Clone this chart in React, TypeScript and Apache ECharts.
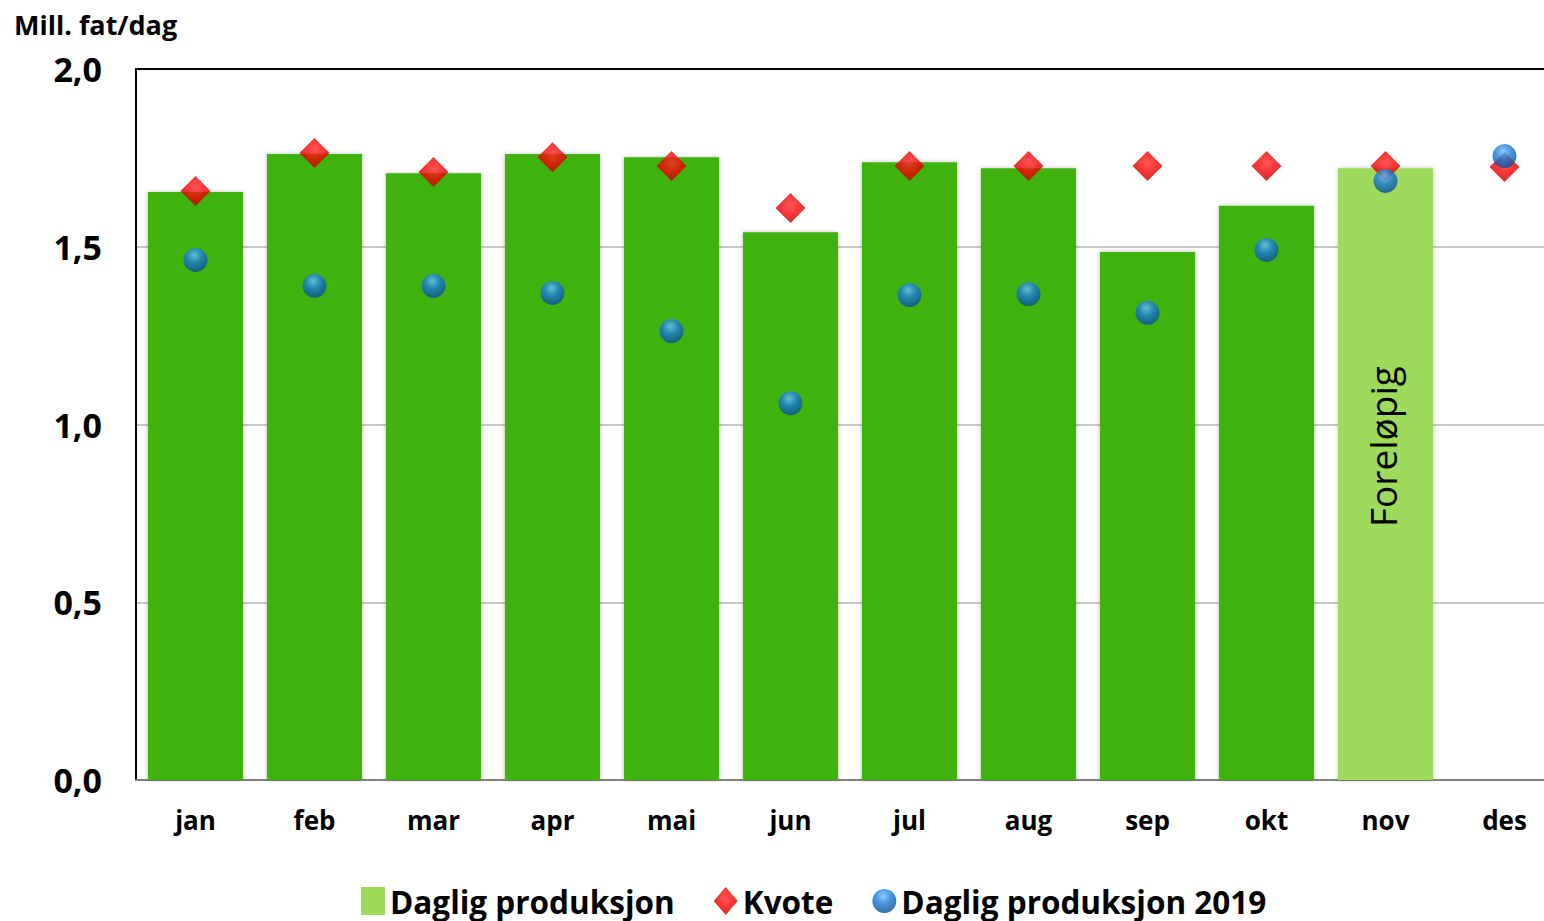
import React, { useEffect, useRef } from "react";
import * as echarts from "echarts";

const months = ["jan", "feb", "mar", "apr", "mai", "jun", "jul", "aug", "sep", "okt", "nov", "des"];
const production = [1.654, 1.761, 1.707, 1.761, 1.752, 1.541, 1.738, 1.721, 1.485, 1.615, 1.721, null];
const quota = [1.657, 1.764, 1.71, 1.752, 1.727, 1.609, 1.727, 1.727, 1.727, 1.727, 1.727, 1.724];
const production2019 = [1.463, 1.39, 1.39, 1.37, 1.263, 1.06, 1.364, 1.367, 1.314, 1.491, 1.685, 1.755];
const preliminaryIndex = 10;
const preliminaryLabel = "Foreløpig";
const yTicks = [0, 0.5, 1, 1.5, 2];

const FONT = "Open Sans";

export default function App() {
  const ref = useRef<HTMLDivElement>(null);
  useEffect(() => {
    if (!ref.current) return;
    const chart = echarts.init(ref.current, undefined, { renderer: "svg" });
    const darkGreen = "#3fb20a";
    const lightGreen = "#9edb5b";
    const redGrad = new echarts.graphic.RadialGradient(0.5, 0.4, 0.6, [
      { offset: 0, color: "#ff2a2a" },
      { offset: 0.6, color: "#f00000" },
      { offset: 1, color: "#b80000" },
    ]);
    const blueGrad = new echarts.graphic.RadialGradient(0.45, 0.3, 0.7, [
      { offset: 0, color: "#6cc0ff" },
      { offset: 0.45, color: "#1a7cd8" },
      { offset: 1, color: "#0a4a94" },
    ]);
    const barData = production.map((v, i) =>
      i === preliminaryIndex
        ? {
            value: v,
            itemStyle: { color: lightGreen },
            label: {
              show: true,
              formatter: preliminaryLabel,
              position: ["47%", "45.5%"],
              rotate: 90,
              align: "center",
              verticalAlign: "middle",
              fontFamily: FONT,
              fontSize: 37,
              color: "#000",
            },
          }
        : v
    );
    chart.setOption({
      animation: false,
      grid: { left: 136, top: 69, width: 1428, height: 711, containLabel: false },
      legend: {
        left: 356,
        top: 880,
        itemGap: 39,
        itemWidth: 24,
        itemHeight: 28,
        textStyle: { fontFamily: FONT, fontWeight: "bold", fontSize: 31.5, color: "#000" },
        data: [
          { name: "Daglig produksjon", icon: "rect", itemStyle: { color: lightGreen } },
          { name: "Kvote", icon: "diamond" },
          { name: "Daglig produksjon 2019", icon: "circle" },
        ],
      },
      graphic: [
        {
          type: "text",
          left: 14,
          top: 11,
          style: { text: "Mill. fat/dag", fontFamily: FONT, fontWeight: "bold", fontSize: 27, fill: "#000" },
        },
      ],
      xAxis: [
        {
          type: "category",
          data: months,
          axisLine: { show: true, lineStyle: { color: "#808080", width: 2 } },
          axisTick: { show: false },
          axisLabel: { margin: 27, fontFamily: FONT, fontWeight: "bold", fontSize: 26, color: "#000" },
          splitLine: { show: false },
        },
        {
          type: "category",
          data: months,
          position: "top",
          axisLine: { show: true, lineStyle: { color: "#000", width: 2 } },
          axisTick: { show: false },
          axisLabel: { show: false },
        },
      ],
      yAxis: {
        type: "value",
        min: yTicks[0],
        max: yTicks[yTicks.length - 1],
        interval: 0.5,
        axisLine: { show: true, lineStyle: { color: "#000", width: 2 } },
        axisTick: { show: false },
        axisLabel: {
          margin: 34,
          fontFamily: FONT,
          fontWeight: "bold",
          fontSize: 34,
          color: "#000",
          formatter: (v: number) => v.toFixed(1).replace(".", ","),
        },
        splitLine: { show: true, lineStyle: { color: "#c8c8c8", width: 2 } },
      },
      series: [
        {
          name: "Daglig produksjon",
          type: "bar",
          data: barData,
          barCategoryGap: "20%",
          itemStyle: { color: darkGreen, shadowBlur: 4, shadowColor: "rgba(0,0,0,0.25)" },
          z: 2,
        },
        {
          name: "Kvote",
          type: "scatter",
          data: quota,
          symbol: "diamond",
          symbolSize: [30, 30],
          itemStyle: { color: redGrad },
          z: 3,
        },
        {
          name: "Daglig produksjon 2019",
          type: "scatter",
          data: production2019,
          symbol: "circle",
          symbolSize: 24,
          itemStyle: { color: blueGrad },
          z: 4,
        },
      ],
    });
    return () => chart.dispose();
  }, []);
  return (
    <div style={{ position: "absolute", left: 0, top: 0, width: 1544, height: 921, overflow: "hidden" }}>
      <div ref={ref} style={{ position: "absolute", left: 0, top: 0, width: 1570, height: 921 }} />
    </div>
  );
}
